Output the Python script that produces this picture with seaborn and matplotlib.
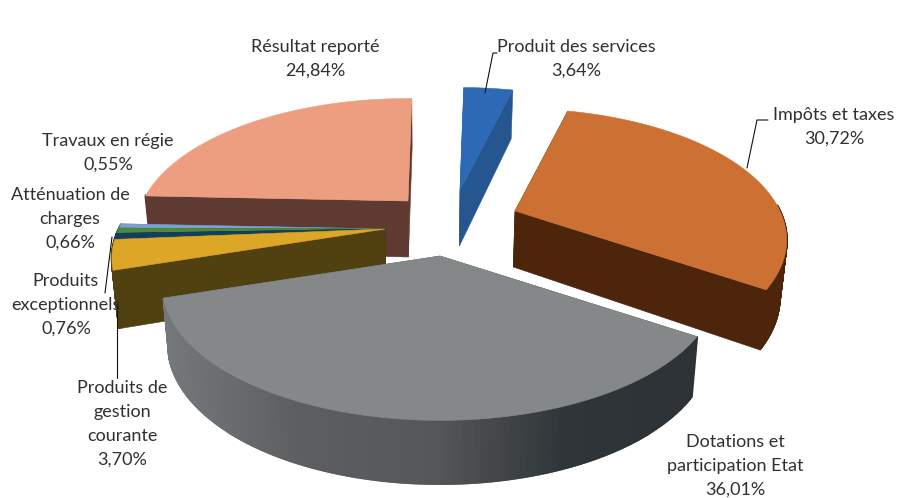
import numpy as np
import matplotlib
matplotlib.use("Agg")
import matplotlib.pyplot as plt
from matplotlib.patches import Polygon
import seaborn as sns

# ---- data (clockwise from 12 o'clock) ----
categories = ["Produit des services", "Impôts et taxes", "Dotations et participation Etat",
              "Produits de gestion courante", "Produits exceptionnels",
              "Atténuation de charges", "Travaux en régie", "Résultat reporté"]
values = [3.64, 30.72, 36.01, 3.70, 0.76, 0.66, 0.55, 24.84]
label_lines = [["Produit des services", "3,64%"],
               ["Impôts et taxes", "30,72%"],
               ["Dotations et", "participation Etat", "36,01%"],
               ["Produits de", "gestion", "courante", "3,70%"],
               ["Produits", "exceptionnels", "0,76%"],
               ["Atténuation de", "charges", "0,66%"],
               ["Travaux en régie", "0,55%"],
               ["Résultat reporté", "24,84%"]]

# ---- style ----
top_colors = ["#2e69b5", "#cc7033", "#848888", "#dca726", "#123f5f", "#4d8b3a", "#7d9fd0", "#ed9e80"]
side_colors = ["#26568f", "#4c250b", "#55585a", "#524110", "#0e2c42", "#2f5524", "#4f6a8f", "#5e3a30"]
explode_origin = [(460, 190), (515, 211), (440, 256), (385, 229), (385, 229), (385, 229), (385, 229), (408, 201)]
slice_radius = [1, 1, 1.02, 1.005, 1.005, 1.005, 1.005, 1]
label_pos = [(576, 47), (834, 115), (735, 442), (122, 388), (66, 281), (70, 195), (108, 141), (315, 47)]
leaders = [[(485, 93), (493, 53), (497, 53)],
           [(747, 168), (757, 120), (768, 120)],
           [(117, 303), (117, 378)],
           [(112, 237), (105, 293)]]
draw_order = [7, 6, 5, 4, 3, 0, 1, 2]
START_ANGLE = 1
RX, RY, PERSP, H, H_P, VP, SHRINK = 265, 125, 0.22, 56, 0.13, 430, 0.98

sns.set_theme(style="white")
plt.rcParams["font.family"] = ["Lato", "DejaVu Sans"]
fig = plt.figure(figsize=(8.98, 4.98), dpi=100)
ax = fig.add_axes([0, 0, 1, 1])
ax.set_xlim(0, 898)
ax.set_ylim(498, 0)
ax.axis("off")


def top_point(theta, r, origin):
    t = np.radians(theta)
    wx, wy = r * np.sin(t), r * np.cos(t)
    s = 1 / (1 + PERSP * wy)
    return origin[0] + RX * wx * s, origin[1] - RY * wy * s, wy


def drop(x, y, wy):
    return VP + (x - VP) * SHRINK, y + H * (1 - H_P * wy)


def face(points, color, z, lw=0.4):
    ax.add_patch(Polygon(points, closed=True, facecolor=color, edgecolor=color, linewidth=lw, zorder=z))


edges = START_ANGLE + np.concatenate([[0], np.cumsum(values)]) / sum(values) * 360
gray_ramp = sns.blend_palette(["#74787a", "#5c5e60", "#55575a", "#2f3538", "#2c3236"], 101)

for z, i in enumerate(draw_order):
    a0, a1 = edges[i], edges[i + 1]
    o = explode_origin[i]
    base = z * 10 + 1
    thetas = np.linspace(a0, a1, max(int(a1 - a0) * 2, 4))
    arc = [top_point(th, slice_radius[i], o) for th in thetas]
    apex = top_point(0, 0, o)
    apex_b = drop(*apex)
    # radial faces
    for p in (arc[-1], arc[0]):
        face([apex[:2], p[:2], drop(*p), apex_b], side_colors[i], base)
    # outer wall, only where it faces the viewer
    for p, q in zip(arc[:-1], arc[1:]):
        if p[2] > 0.05 or q[2] > 0.05:
            continue
        if i == 2:
            f = np.clip(((p[0] + q[0]) / 2 - 161) / (698 - 161), 0, 1)
            col = gray_ramp[int(f * 100)]
        else:
            col = side_colors[i]
        face([p[:2], q[:2], drop(*q), drop(*p)], col, base + 1, lw=1.6)
    # top face
    face([apex[:2]] + [p[:2] for p in arc], top_colors[i], base + 2)

for line in leaders:
    xs, ys = zip(*line)
    ax.plot(xs, ys, color="#111111", lw=0.8, zorder=200)

for lines, (x, y) in zip(label_lines, label_pos):
    for n, txt in enumerate(lines):
        ax.text(x, y + n * 24, txt, ha="center", va="center", fontsize=13,
                color="#303030", zorder=300)

fig.savefig("out.png", dpi=100, facecolor="white")
